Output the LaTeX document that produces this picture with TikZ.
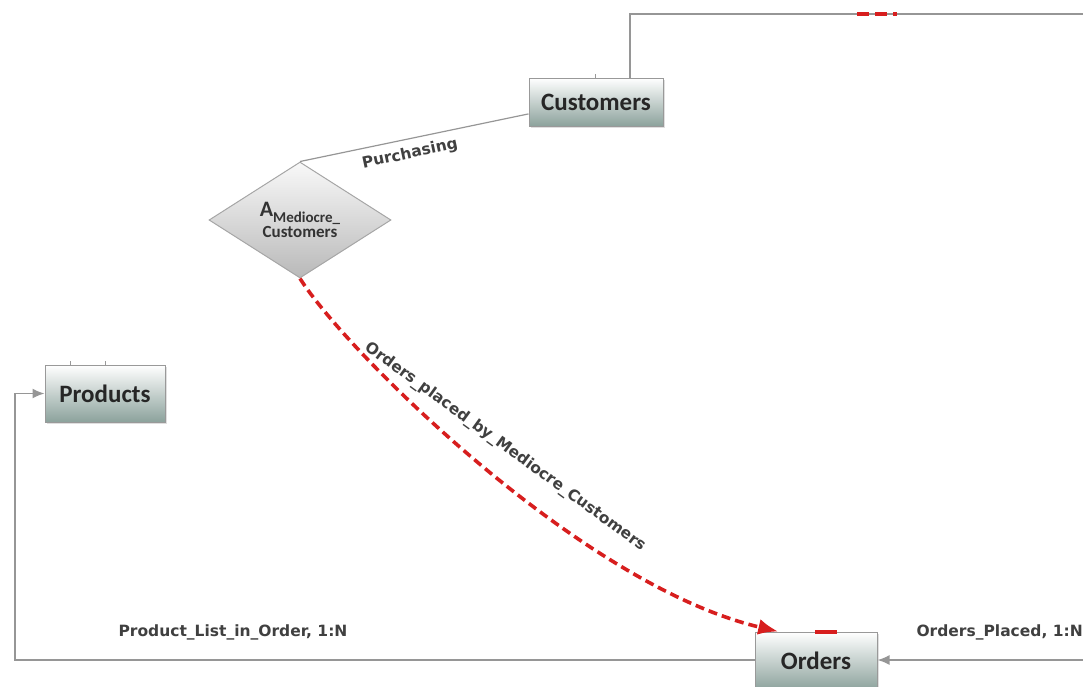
\documentclass[tikz,border=0pt]{standalone}
\usepackage{fontspec}
\setmainfont{DejaVu Sans}
\newfontfamily\boxfont{Carlito}
\usetikzlibrary{shapes.geometric,arrows.meta,shadows,calc}

\definecolor{boxgreen}{RGB}{140,162,156}
\definecolor{linkgray}{RGB}{150,150,150}
\definecolor{hotred}{RGB}{215,30,30}

\begin{document}
\begin{tikzpicture}[x=1pt,y=-1pt]
\useasboundingbox (0,0) rectangle (1083,686);

% Styles for the entity boxes, the relation diamond and the link labels
\tikzstyle{entity}=[draw=gray!80, line width=1pt, top color=white, bottom color=boxgreen,
  drop shadow={opacity=0.25, shadow xshift=2pt, shadow yshift=-2pt},
  font=\boxfont\bfseries\fontsize{25}{25}\selectfont, text=black!85, inner sep=0pt]
\tikzstyle{relation}=[diamond, draw=gray!70, line width=1pt, top color=gray!5, bottom color=gray!55,
  inner sep=0pt, minimum width=182pt, minimum height=116pt, text=black!80, align=center]
\tikzstyle{link}=[draw=linkgray, line width=1.6pt]
\tikzstyle{hot}=[draw=hotred, line width=3.6pt, dash pattern=on 9pt off 5pt]
\tikzstyle{linklabel}=[font=\bfseries\fontsize{15.5}{15.5}\selectfont, text=black!75]

% The three entities
\node[entity, minimum width=134pt, minimum height=48pt] (Customers) at (596,102) {Customers};
\node[entity, minimum width=120pt, minimum height=57pt] (Products) at (105,393.5) {Products};
\node[entity, minimum width=122pt, minimum height=58pt] (Orders) at (816,661) {Orders};

% The relation diamond
\node[relation] (Mediocre) at (300,220)
  {\boxfont\bfseries{\fontsize{22}{22}\selectfont A}\raisebox{-6pt}{\fontsize{15}{15}\selectfont Mediocre\_}\\[1pt]
   \boxfont\bfseries\fontsize{17}{17}\selectfont Customers};

% Small stubs on top of the boxes
\draw[gray!80, line width=1pt] (70,361) -- (70,365) (105,361) -- (105,365) (595,74) -- (595,78);

% Loop from Customers over the top edge
\coordinate (topcorner) at ($(Customers.north east)!0.5!(Customers.north)$);
\coordinate (topend) at (1083,14);
\draw[link] (topcorner) -- (topcorner |- topend) -- (topend);
\draw[hot, dash pattern=on 12pt off 6pt] (857,14) -- (897,14);

% Purchasing
\draw[link, line width=1.2pt] (Mediocre.north) -- (Customers.190);
\node[linklabel, rotate=12] (purchasing) at (410,154) {Purchasing};

% Orders placed by mediocre customers
\draw[hot, -{Latex[length=20pt,width=16pt]}] (Mediocre.south) .. controls (345,350) and (580,585) .. (Orders.142);
\node[linklabel, rotate=-36] (placedby) at (505,447) {Orders\_placed\_by\_Mediocre\_Customers};
\draw[hot, dash pattern=on 22pt off 4pt] (815,632) -- (837,632);

% Product list in order
\coordinate (leftcorner) at (15,660);
\draw[link, -{Latex[length=12pt,width=10pt]}] (Orders.west |- leftcorner) -- (leftcorner) |- (Products.west);
\node[linklabel] (productlist) at (233,632) {Product\_List\_in\_Order, 1:N};

% Orders placed
\coordinate (rightend) at (1083,660);
\draw[link, -{Latex[length=12pt,width=10pt]}] (rightend) -- (Orders.east |- rightend);
\node[linklabel, anchor=west] (ordersplaced) at (913,632) {Orders\_Placed, 1:N};

\end{tikzpicture}
\end{document}
